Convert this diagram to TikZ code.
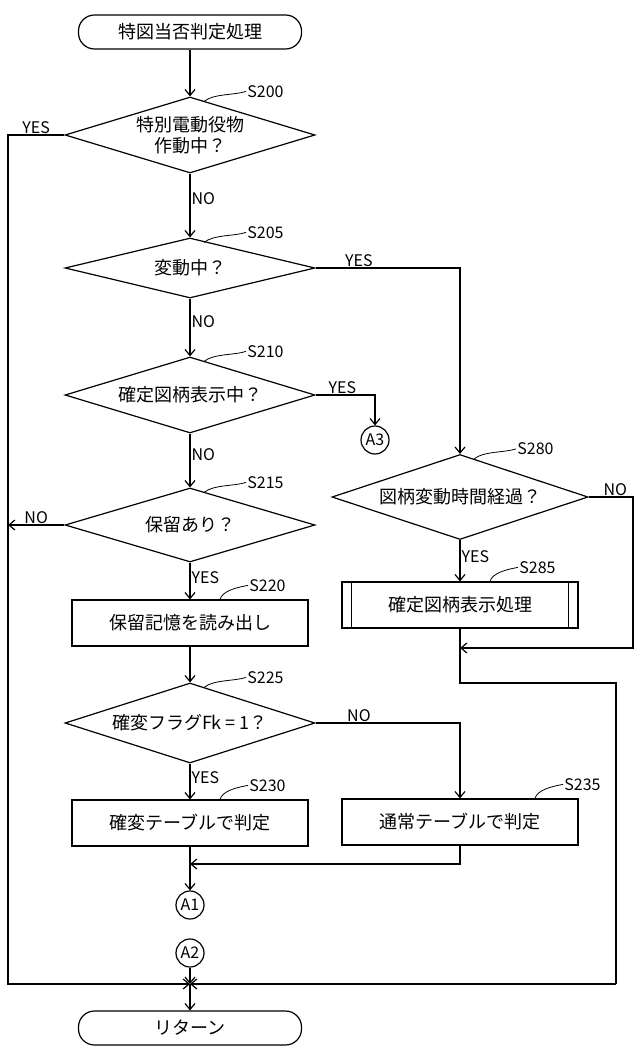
\documentclass[tikz,border=0pt]{standalone}
\usepackage{fontspec}
\setmainfont{Noto Sans CJK JP}
\usetikzlibrary{shapes.geometric,arrows.meta}
\begin{document}
\begin{tikzpicture}[x=1pt,y=-1pt,line width=1.2pt,
  every node/.style={font=\fontsize{18}{20}\selectfont},
  term/.style={draw,rounded corners=16pt,minimum width=223pt,minimum height=34pt,inner sep=0},
  dec/.style={draw,diamond,aspect=3,inner sep=0,minimum width=250pt},
  box/.style={draw,minimum width=236pt,minimum height=46pt,inner sep=0},
  con/.style={draw,circle,inner sep=0,minimum size=28pt,font=\fontsize{16}{16}\selectfont},
  lab/.style={font=\fontsize{16}{18}\selectfont,inner sep=1pt},
  arr/.style={-{Straight Barb[length=6pt,width=10pt]}}]
\useasboundingbox (0,0) rectangle (640,1056);
\node[term] (start) at (190,32) {特図当否判定処理};
\node[dec,minimum height=76pt,align=center,font=\fontsize{18}{21}\selectfont] (d200) at (190,135) {特別電動役物\\作動中？};
\node[dec,minimum height=60pt] (d205) at (190,268) {変動中？};
\node[dec,minimum height=76pt] (d210) at (190,395) {確定図柄表示中？};
\node[dec,minimum height=74pt] (d215) at (190,525) {保留あり？};
\node[box] (b220) at (190,623) {保留記憶を読み出し};
\node[dec,minimum height=80pt] (d225) at (190,723) {確変フラグFk = 1？};
\node[box] (b230) at (190,823) {確変テーブルで判定};
\node[box] (b235) at (460,822) {通常テーブルで判定};
\node[con] (a1) at (190,905) {A1};
\node[con] (a2) at (190,953) {A2};
\node[con] (a3) at (375,440) {A3};
\node[dec,minimum width=256pt,minimum height=85pt] (d280) at (460,497) {図柄変動時間経過？};
\node[box] (b285) at (460,605) {確定図柄表示処理};
\draw ([xshift=10pt]b285.north west) -- ([xshift=10pt]b285.south west)
      ([xshift=-10pt]b285.north east) -- ([xshift=-10pt]b285.south east);
\node[term] (ret) at (190,1028) {リターン};
\coordinate (j) at (190,984);
\coordinate (m1) at (460,648);
\coordinate (m2) at (190,864);
% main flow
\draw[arr] (start) -- (d200);
\draw[arr] (d200) -- node[lab,pos=0.4,right] {NO} (d205);
\draw[arr] (d205) -- node[lab,pos=0.4,right] {NO} (d210);
\draw[arr] (d210) -- node[lab,pos=0.4,right] {NO} (d215);
\draw[arr] (d215) -- node[lab,pos=0.4,right] {YES} (b220);
\draw[arr] (b220) -- (d225);
\draw[arr] (d225) -- node[lab,pos=0.4,right] {YES} (b230);
\draw[arr] (b230) -- (a1);
\draw[arr] (b235.south) |- (m2);
\draw[arr] (a2) -- (j);
\draw[arr] (j) -- (ret);
% branches
\draw[arr] (d200.west) -- node[lab,pos=0.5,above] {YES} (8,135) -- (8,984) -- (j);
\draw[arr] (d205.east) -- node[lab,pos=0.3,above] {YES} (460,268) -- (d280.north);
\draw[arr] (d210.east) -- node[lab,pos=0.45,above] {YES} (375,395) -- (a3);
\draw[arr] (d215.west) -- node[lab,pos=0.5,above] {NO} (8,525);
\draw[arr] (d225.east) -- node[lab,pos=0.3,above] {NO} (460,723) -- (b235.north);
\draw[arr] (d280) -- node[lab,pos=0.4,right] {YES} (b285);
\draw[arr] (d280.east) -- node[lab,pos=0.6,above] {NO} (633,497) -- (633,648) -- (m1);
\draw (b285.south) -- (m1) -- (460,683) -- (616,683) -- (616,984);
\draw[arr] (616,984) -- (j);
% step labels
\foreach \n/\p/\t in {d200/north/S200,d205/north/S205,d210/north/S210,d215/north/S215,d225/north/S225,d280/north/S280}{
  \draw[line width=0.8pt] ([xshift=14pt,yshift=-5pt]\n.\p) .. controls +(10,-8) and +(-12,4) .. ++(42,-10) node[lab,right] (l\t) {\t};
}
\draw[line width=0.8pt] ([xshift=30pt]b220.north) .. controls +(2,-8) and +(-12,2) .. ++(28,-14) node[lab,right] (lS220) {S220};
\draw[line width=0.8pt] ([xshift=30pt]b230.north) .. controls +(2,-8) and +(-12,2) .. ++(28,-14) node[lab,right] (lS230) {S230};
\draw[line width=0.8pt] ([xshift=75pt]b235.north) .. controls +(2,-8) and +(-12,2) .. ++(28,-14) node[lab,right] (lS235) {S235};
\draw[line width=0.8pt] ([xshift=30pt]b285.north) .. controls +(2,-8) and +(-12,2) .. ++(28,-14) node[lab,right] (lS285) {S285};
\end{tikzpicture}
\end{document}
